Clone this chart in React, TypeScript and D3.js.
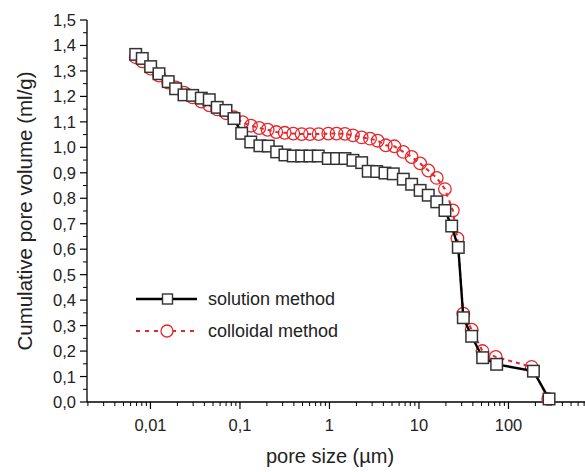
import React from "react";
import * as d3 from "d3";

const solutionX = [0.00684, 0.0081, 0.01005, 0.01245, 0.0158, 0.0191, 0.0237, 0.0296, 0.037, 0.0454, 0.0557, 0.0698, 0.0857, 0.1045, 0.132, 0.167, 0.207, 0.257, 0.318, 0.394, 0.489, 0.605, 0.75, 0.97, 1.2, 1.49, 1.83, 2.29, 2.71, 3.37, 4.17, 5.16, 6.68, 8.28, 10.3, 12.7, 15.8, 19.5, 23.2, 27.5, 31.3, 38.8, 51.5, 73.8, 190, 284];
const solutionY = [1.365, 1.349, 1.317, 1.289, 1.258, 1.23, 1.206, 1.204, 1.193, 1.187, 1.157, 1.145, 1.113, 1.055, 1.021, 1.006, 1.005, 0.982, 0.97, 0.966, 0.966, 0.966, 0.966, 0.956, 0.956, 0.956, 0.949, 0.94, 0.906, 0.905, 0.899, 0.896, 0.875, 0.855, 0.831, 0.812, 0.786, 0.752, 0.691, 0.607, 0.331, 0.258, 0.174, 0.148, 0.121, 0.012];

const colloidX = [0.00684, 0.0081, 0.01005, 0.01245, 0.0158, 0.0191, 0.0237, 0.0296, 0.037, 0.0454, 0.0557, 0.0698, 0.0857, 0.1067, 0.1327, 0.164, 0.204, 0.2545, 0.316, 0.394, 0.489, 0.605, 0.757, 0.97, 1.2, 1.49, 1.83, 2.29, 2.84, 3.46, 4.26, 5.32, 6.68, 8.28, 10.3, 12.7, 15.8, 19.5, 23.9, 26.9, 31.3, 38.8, 51.2, 72.1, 181.6, 278];
const colloidY = [1.354, 1.338, 1.309, 1.282, 1.254, 1.235, 1.215, 1.196, 1.18, 1.165, 1.149, 1.134, 1.118, 1.099, 1.085, 1.076, 1.069, 1.06, 1.057, 1.054, 1.052, 1.052, 1.052, 1.054, 1.054, 1.053, 1.047, 1.039, 1.034, 1.026, 1.008, 1.004, 0.982, 0.962, 0.937, 0.909, 0.88, 0.836, 0.752, 0.642, 0.347, 0.284, 0.2, 0.177, 0.138, 0.012];

const xMajorTicks = [0.01, 0.1, 1, 10, 100];
const xTickLabels = ["0,01", "0,1", "1", "10", "100"];
const yMajorTicks = [0, 0.1, 0.2, 0.3, 0.4, 0.5, 0.6, 0.7, 0.8, 0.9, 1.0, 1.1, 1.2, 1.3, 1.4, 1.5];
const legendLabels = ["solution method", "colloidal method"];
const xTitle = "pore size (\u00b5m)";
const yTitle = "Cumulative pore volume (ml/g)";

const W = 585;
const H = 472;
const RED = "#e8262a";
const FONT = "'Liberation Sans', Arial, Helvetica, sans-serif";

export default function App() {
  const left = 87;
  const x = d3.scaleLog().domain([Math.pow(10, -2.709), Math.pow(10, 2.855)]).range([left, 585]);
  const y = d3.scaleLinear().domain([0, 1.5]).range([402, 20]);

  const minorX: number[] = [];
  for (let e = -3; e <= 2; e++) {
    for (let m = 2; m <= 9; m++) {
      const v = m * Math.pow(10, e);
      if (x(v) >= left && x(v) <= 585) minorX.push(v);
    }
  }
  const minorY = d3.range(0.05, 1.5, 0.1);

  const sol = solutionX.map((v, i) => [v, solutionY[i]] as [number, number]);
  const col = colloidX.map((v, i) => [v, colloidY[i]] as [number, number]);
  const line = d3.line<[number, number]>().x(d => x(d[0])).y(d => y(d[1]));

  const sq = 11.5;
  const r = 6.3;

  return (
    <svg width={W} height={H} style={{ position: "absolute", left: 0, top: 0, background: "#fff" }}>
      <rect width={W} height={H} fill="#fff" />
      {/* axes */}
      <line x1={left} x2={585} y1={y(0)} y2={y(0)} stroke="#000" strokeWidth={1.3} />
      <line x1={left} x2={left} y1={y(0)} y2={y(1.5)} stroke="#000" strokeWidth={1.3} />
      {xMajorTicks.map((t, i) => (
        <g key={"xt" + i}>
          <line x1={x(t)} x2={x(t)} y1={y(0)} y2={y(0) + 7} stroke="#000" strokeWidth={1.2} />
          <text x={x(t)} y={y(0) + 29} textAnchor="middle" fontSize={16.5} fontFamily={FONT} fill="#222">{xTickLabels[i]}</text>
        </g>
      ))}
      {minorX.map((t, i) => (
        <line key={"xm" + i} x1={x(t)} x2={x(t)} y1={y(0)} y2={y(0) + 4} stroke="#000" strokeWidth={1} />
      ))}
      {yMajorTicks.map((t, i) => (
        <g key={"yt" + i}>
          <line x1={left - 7} x2={left} y1={y(t)} y2={y(t)} stroke="#000" strokeWidth={1.2} />
          <text x={left - 11} y={y(t) + 6} textAnchor="end" fontSize={16.5} fontFamily={FONT} fill="#222">{d3.format(".1f")(t).replace(".", ",")}</text>
        </g>
      ))}
      {minorY.map((t, i) => (
        <line key={"ym" + i} x1={left - 4} x2={left} y1={y(t)} y2={y(t)} stroke="#000" strokeWidth={1} />
      ))}
      <text x={330} y={463} textAnchor="middle" fontSize={20} fontFamily={FONT} fill="#222">{xTitle}</text>
      <text transform={`translate(32,${(y(0) + y(1.5)) / 2}) rotate(-90)`} textAnchor="middle" fontSize={20.5} fontFamily={FONT} fill="#222">{yTitle}</text>

      {/* colloidal series */}
      <path d={line(col) || ""} fill="none" stroke={RED} strokeWidth={2} strokeDasharray="4,4" />
      {col.map((d, i) => (
        <circle key={"c" + i} cx={x(d[0])} cy={y(d[1])} r={r} fill="none" stroke={RED} strokeWidth={1.3} />
      ))}
      {/* solution series */}
      <path d={line(sol) || ""} fill="none" stroke="#000" strokeWidth={2.4} />
      {sol.map((d, i) => (
        <rect key={"s" + i} x={x(d[0]) - sq / 2} y={y(d[1]) - sq / 2} width={sq} height={sq} fill="#fff" stroke="#333" strokeWidth={1.5} />
      ))}

      {/* legend */}
      <line x1={136} x2={197} y1={299} y2={299} stroke="#000" strokeWidth={2.4} />
      <rect x={167.5 - 5} y={299 - 5} width={10} height={10} fill="#fff" stroke="#333" strokeWidth={1.4} />
      <text x={208} y={305} fontSize={18} fontFamily={FONT} fill="#222">{legendLabels[0]}</text>
      <line x1={136} x2={197} y1={331} y2={331} stroke={RED} strokeWidth={2} strokeDasharray="4,5" />
      <circle cx={167} cy={331} r={6} fill="#fff" stroke={RED} strokeWidth={1.3} />
      <text x={208} y={337} fontSize={18} fontFamily={FONT} fill="#222">{legendLabels[1]}</text>
    </svg>
  );
}
